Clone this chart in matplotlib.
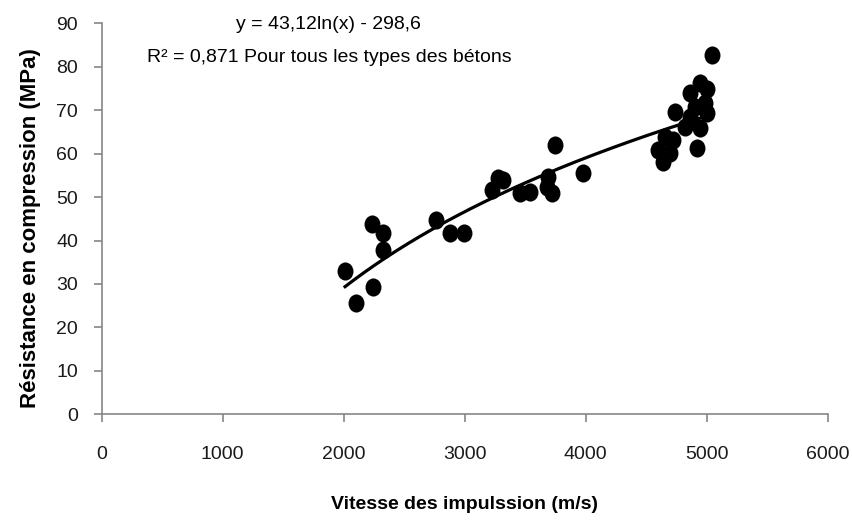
import numpy as np
import matplotlib.pyplot as plt
from matplotlib.path import Path
from matplotlib.transforms import Affine2D

# données
vitesse = [2011, 2102, 2245, 2236, 2327, 2327, 2763, 2878, 2997,
           3223, 3278, 3317, 3457, 3540, 3691, 3677, 3719, 3747, 3975,
           4600, 4641, 4697, 4655, 4724, 4738, 4821, 4862, 4944, 4862,
           4944, 5000, 4986, 5000, 4903, 4917, 5041]
resistance = [33.1, 25.7, 29.4, 43.8, 41.7, 37.8, 44.7, 41.7, 41.7,
              51.6, 54.3, 54.0, 50.9, 51.2, 54.7, 52.4, 50.9, 62.0, 55.6,
              60.8, 58.1, 60.1, 63.9, 63.1, 69.7, 66.2, 68.5, 65.8, 73.9,
              76.2, 75.0, 71.6, 69.3, 70.8, 61.2, 82.8]

# courbe de tendance logarithmique y = a ln(x) + b
coef = [43.12, -298.6]
r2 = 0.871

xticks = [0, 1000, 2000, 3000, 4000, 5000, 6000]
yticks = [0, 10, 20, 30, 40, 50, 60, 70, 80, 90]

plt.rcParams['font.family'] = ['Liberation Sans Narrow', 'Liberation Sans', 'DejaVu Sans']

# marqueur légèrement ovale (comme dans l'image d'origine)
ovale = Path.unit_circle().transformed(Affine2D().scale(0.88, 1.0))

fig = plt.figure(figsize=(8.52, 5.28), dpi=100)
ax = fig.add_axes([0.1194, 0.2153, 0.8521, 0.7405])

ax.scatter(vitesse, resistance, s=170, marker=ovale, color='black', linewidths=0, zorder=3)

xt = np.linspace(min(vitesse), max(vitesse), 200)
ax.plot(xt, coef[0] * np.log(xt) + coef[1], color='black', lw=2.3, zorder=2)

ax.set_xlim(0, 6000)
ax.set_ylim(0, 90)
ax.set_xticks(xticks)
ax.set_yticks(yticks)

for s in ['top', 'right']:
    ax.spines[s].set_visible(False)
for s in ['left', 'bottom']:
    ax.spines[s].set_color('#868686')
    ax.spines[s].set_linewidth(1.2)
ax.tick_params(axis='both', direction='out', length=6, width=1.2, color='#868686',
               labelsize=14, labelcolor='#1a1a1a')
ax.tick_params(axis='x', pad=17)
ax.tick_params(axis='y', pad=11)

fig.text(0.386, 0.953, 'y = 43,12ln(x) - 298,6', ha='center', va='center', fontsize=14)
fig.text(0.387, 0.892, 'R² = 0,871 Pour tous les types des bétons', ha='center', va='center', fontsize=14)

fig.text(0.545, 0.044, 'Vitesse des impulssion (m/s)', ha='center', va='center',
         fontsize=14, fontweight='bold')
fig.text(0.036, 0.568, 'Résistance en compression (MPa)', ha='center', va='center',
         rotation=90, fontsize=16, fontweight='bold', family=['Liberation Sans', 'DejaVu Sans'])

plt.savefig('out.png', dpi=100)
